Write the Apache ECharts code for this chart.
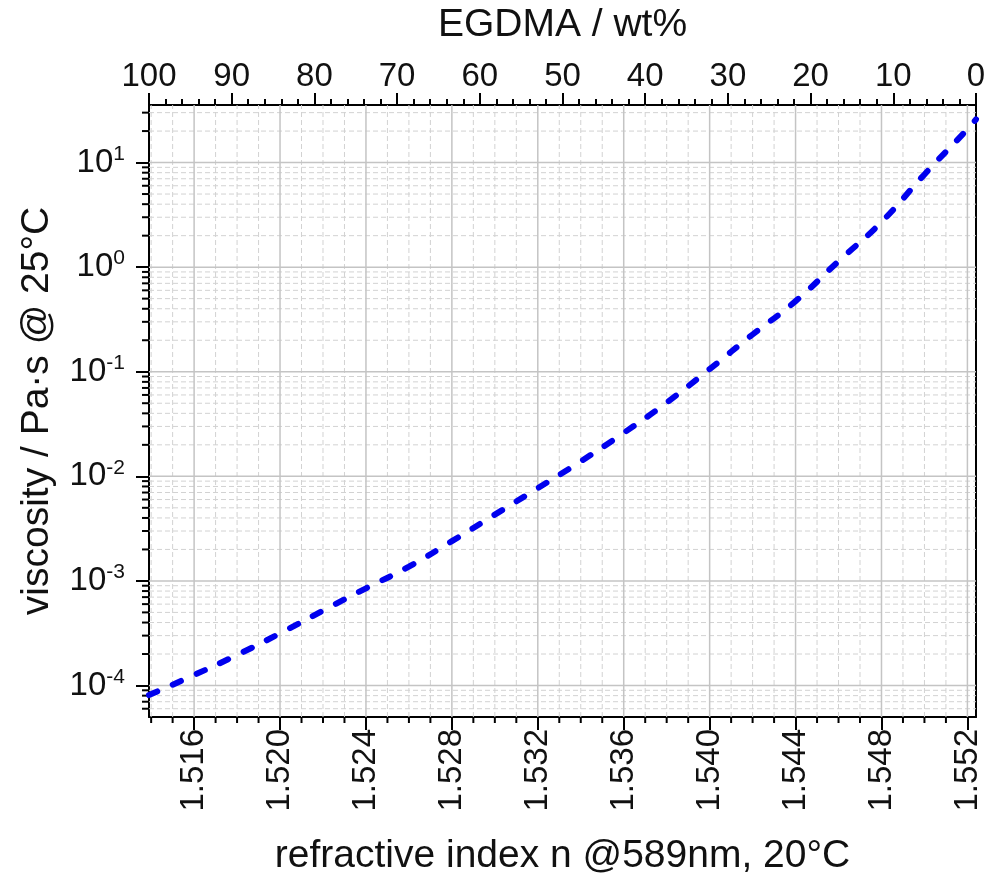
<!DOCTYPE html>
<html>
<head>
<meta charset="utf-8">
<script src="https://cdn.jsdelivr.net/npm/echarts@6/dist/echarts.min.js"></script>
<style>
  html, body { margin: 0; padding: 0; background: #fff; }
  #chart { width: 990px; height: 882px; }
</style>
</head>
<body>
<div id="chart"></div>
<script>
// Viscosity of the monomer blend against its refractive index
const refractiveIndex = [1.5139, 1.516, 1.518, 1.520, 1.522, 1.524, 1.526, 1.528, 1.530, 1.532,
                         1.534, 1.536, 1.538, 1.540, 1.542, 1.544, 1.546, 1.548, 1.550, 1.552, 1.5524];
const viscosity = [8.1e-5, 1.26e-4, 1.96e-4, 3.15e-4, 5.2e-4, 8.5e-4, 1.37e-3, 2.4e-3, 4.3e-3, 7.7e-3,
                   1.39e-2, 2.6e-2, 5.07e-2, 0.106, 0.227, 0.473, 1.14, 2.7, 7.7, 20.8, 25.9];

// axis ranges and tick values
const N_MIN = 1.5139, N_MAX = 1.5524;
const V_MIN = 5e-5, V_MAX = 35.5;
const nTicks = [1.516, 1.520, 1.524, 1.528, 1.532, 1.536, 1.540, 1.544, 1.548, 1.552];
const viscTicks = [1e-4, 1e-3, 1e-2, 1e-1, 1, 10];

// minor steps: every 0.001 in n, 2..9 x 10^k in viscosity
const nMinor = [];
for (let i = 1514; i <= 1552; i++) if (i % 4 !== 0) nMinor.push(i / 1000);
const viscMinor = [];
for (let e = -5; e <= 1; e++) {
  for (let k = 2; k <= 9; k++) {
    const v = k * Math.pow(10, e);
    if (v > V_MIN * 1.0001 && v < V_MAX) viscMinor.push(v);
  }
}

const FONT = 'Liberation Sans, Arial, sans-serif';
const MAJOR_GRID = '#c4c4c4';
const MINOR_GRID = '#d2d2d2';
const TITLE_SIZE = 39;
const LABEL_SIZE = 33;

function vertical(major) {
  return function (params, api) {
    const x = api.value(0);
    const top = api.coord([x, V_MAX]);
    const bot = api.coord([x, V_MIN]);
    const children = [{
      type: 'line',
      shape: { x1: bot[0], y1: bot[1], x2: top[0], y2: top[1] },
      style: { stroke: major ? MAJOR_GRID : MINOR_GRID, lineWidth: major ? 1.5 : 1, lineDash: major ? null : [5, 3] }
    }];
    if (!major) {
      children.push({
        type: 'line',
        shape: { x1: bot[0], y1: bot[1], x2: bot[0], y2: bot[1] + 6 },
        style: { stroke: '#000', lineWidth: 2 }
      });
    }
    return { type: 'group', children: children };
  };
}

function horizontal(major) {
  return function (params, api) {
    const y = api.value(1);
    const left = api.coord([N_MIN, y]);
    const right = api.coord([N_MAX, y]);
    const children = [{
      type: 'line',
      shape: { x1: left[0], y1: left[1], x2: right[0], y2: right[1] },
      style: { stroke: major ? MAJOR_GRID : MINOR_GRID, lineWidth: major ? 1.5 : 1, lineDash: major ? null : [5, 3] }
    }];
    if (!major) {
      children.push({
        type: 'line',
        shape: { x1: left[0], y1: left[1], x2: left[0] - 7, y2: left[1] },
        style: { stroke: '#000', lineWidth: 2 }
      });
    }
    return { type: 'group', children: children };
  };
}

function gridSeries(render, data) {
  return {
    type: 'custom',
    xAxisIndex: 0,
    yAxisIndex: 0,
    renderItem: render,
    data: data,
    clip: false,
    silent: true,
    z: 1
  };
}

const chart = echarts.init(document.getElementById('chart'), null, { renderer: 'canvas' });
chart.setOption({
  animation: false,
  backgroundColor: '#fff',
  textStyle: { fontFamily: FONT },
  grid: { left: 149, right: 14, top: 105, bottom: 165, containLabel: false, outerBoundsMode: 'none' },
  xAxis: [
    {
      type: 'value',
      position: 'bottom',
      min: N_MIN,
      max: N_MAX,
      name: 'refractive index n @589nm, 20°C',
      nameLocation: 'middle',
      nameGap: 120,
      nameTextStyle: { fontSize: TITLE_SIZE, color: '#111', fontFamily: FONT },
      axisLine: { show: true, onZero: false, lineStyle: { color: '#000', width: 2 } },
      axisTick: { show: true, inside: false, length: 13, customValues: nTicks, lineStyle: { color: '#000', width: 2 } },
      axisLabel: {
        show: true,
        customValues: nTicks,
        rotate: 90,
        margin: 12,
        fontSize: LABEL_SIZE,
        color: '#111',
        fontFamily: FONT,
        formatter: v => v.toFixed(3)
      },
      splitLine: { show: false }
    },
    {
      type: 'value',
      position: 'top',
      min: 0,
      max: 100,
      interval: 10,
      inverse: true,
      name: 'EGDMA / wt%',
      nameLocation: 'middle',
      nameGap: 60,
      nameTextStyle: { fontSize: TITLE_SIZE, color: '#111', fontFamily: FONT },
      axisLine: { show: true, onZero: false, lineStyle: { color: '#000', width: 2 } },
      axisTick: { show: true, inside: false, length: 12, lineStyle: { color: '#000', width: 2 } },
      minorTick: { show: true, splitNumber: 5, length: 6, lineStyle: { color: '#000', width: 2 } },
      axisLabel: { show: true, margin: 12, fontSize: LABEL_SIZE, color: '#111', fontFamily: FONT },
      splitLine: { show: false },
      minorSplitLine: { show: false }
    }
  ],
  yAxis: [
    {
      type: 'log',
      logBase: 10,
      position: 'left',
      min: V_MIN,
      max: V_MAX,
      name: 'viscosity / Pa·s @ 25°C',
      nameLocation: 'middle',
      nameGap: 92,
      nameRotate: 90,
      nameTextStyle: { fontSize: TITLE_SIZE, color: '#111', fontFamily: FONT },
      axisLine: { show: true, onZero: false, lineStyle: { color: '#000', width: 2 } },
      axisTick: { show: true, inside: false, length: 13, customValues: viscTicks, lineStyle: { color: '#000', width: 2 } },
      axisLabel: {
        show: true,
        customValues: viscTicks,
        margin: 24,
        fontFamily: FONT,
        formatter: v => '{b|10}{s|' + Math.round(Math.log10(v)) + '}',
        rich: {
          b: { fontSize: LABEL_SIZE, lineHeight: 38, color: '#111', fontFamily: FONT },
          s: { fontSize: 21, lineHeight: 21, verticalAlign: 'top', color: '#111', fontFamily: FONT }
        }
      },
      splitLine: { show: false }
    },
    {
      type: 'log',
      logBase: 10,
      position: 'right',
      min: V_MIN,
      max: V_MAX,
      axisLine: { show: true, onZero: false, lineStyle: { color: '#000', width: 2 } },
      axisTick: { show: false },
      axisLabel: { show: false },
      splitLine: { show: false }
    }
  ],
  series: [
    gridSeries(vertical(false), nMinor.map(v => [v, V_MIN])),
    gridSeries(horizontal(false), viscMinor.map(v => [N_MIN, v])),
    gridSeries(vertical(true), nTicks.map(v => [v, V_MIN])),
    gridSeries(horizontal(true), viscTicks.map(v => [N_MIN, v])),
    {
      type: 'line',
      xAxisIndex: 0,
      yAxisIndex: 0,
      data: refractiveIndex.map((n, i) => [n, viscosity[i]]),
      smooth: true,
      showSymbol: false,
      symbol: 'none',
      clip: true,
      z: 5,
      lineStyle: { color: '#0000ee', width: 6, type: [9, 17], cap: 'round' }
    }
  ]
});
</script>
</body>
</html>
